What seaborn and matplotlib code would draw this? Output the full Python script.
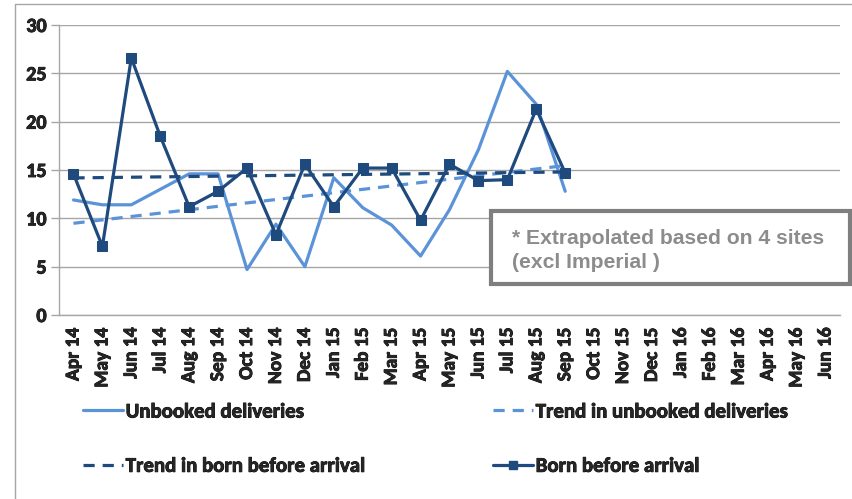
import numpy as np
import pandas as pd
import seaborn as sns
import matplotlib.pyplot as plt
import matplotlib.patheffects as pe
from matplotlib.lines import Line2D
from matplotlib.patches import Rectangle

months = ['Apr 14', 'May 14', 'Jun 14', 'Jul 14', 'Aug 14', 'Sep 14', 'Oct 14',
          'Nov 14', 'Dec 14', 'Jan 15', 'Feb 15', 'Mar 15', 'Apr 15', 'May 15',
          'Jun 15', 'Jul 15', 'Aug 15', 'Sep 15', 'Oct 15', 'Nov 15', 'Dec 15',
          'Jan 16', 'Feb 16', 'Mar 16', 'Apr 16', 'May 16', 'Jun 16']
unbooked = [11.9, 11.4, 11.4, 13.0, 14.6, 14.6, 4.7, 9.4, 5.0, 14.2, 11.1, 9.3,
            6.1, 10.9, 17.1, 25.2, 21.8, 12.8]
born = [14.6, 7.1, 26.6, 18.5, 11.2, 12.8, 15.2, 8.3, 15.6, 11.2, 15.2, 15.2,
        9.8, 15.6, 13.9, 14.0, 21.3, 14.7]

light = '#5B93D8'
dark = '#1F4A7E'
grey = '#A6A6A6'

df = pd.DataFrame({'x': np.arange(len(born)), 'unbooked': unbooked, 'born': born})
df['trend_unbooked'] = np.polyval(np.polyfit(df.x, df.unbooked, 1), df.x)
df['trend_born'] = np.polyval(np.polyfit(df.x, df.born, 1), df.x)

sns.set_style('white')
plt.rcParams['font.family'] = ['Carlito', 'DejaVu Sans']

fig = plt.figure(figsize=(8.53, 4.99), dpi=100)
ax = fig.add_axes([59 / 853, 1 - 315 / 499, 781 / 853, 290 / 499])

lw = 2.3
dash = (3.5, 2.5)
sns.lineplot(data=df, x='x', y='unbooked', ax=ax, color=light, lw=lw, zorder=3)
sns.lineplot(data=df, x='x', y='trend_unbooked', ax=ax, color=light, lw=lw,
             zorder=3).lines[-1].set_dashes(dash)
sns.lineplot(data=df, x='x', y='trend_born', ax=ax, color=dark, lw=lw,
             zorder=3).lines[-1].set_dashes(dash)
sns.lineplot(data=df, x='x', y='born', ax=ax, color=dark, lw=lw, marker='s',
             markersize=7, markeredgecolor=dark, zorder=4)

# thicken the bold text a touch
thick = [pe.withStroke(linewidth=0.6, foreground='black')]

ax.set_xlim(-0.5, len(months) - 0.5)
ax.set_ylim(0, 30)
ax.set_yticks(range(0, 31, 5))
ax.set_xticks(range(len(months)))
ax.set_xticklabels(months, rotation=90, fontweight='bold', fontsize=14, va='top')
ax.set_xticks(np.arange(-0.5, len(months)), minor=True)
ax.tick_params(axis='x', which='major', length=0, pad=9)
ax.tick_params(axis='x', which='minor', length=6, color=grey, width=1)
ax.tick_params(axis='y', length=6, color=grey, width=1, left=True, pad=3)
for t in ax.get_yticklabels():
    t.set_fontweight('bold')
    t.set_fontsize(14.5)
for t in ax.get_yticklabels() + ax.get_xticklabels():
    t.set_path_effects(thick)
ax.set_xlabel('')
ax.set_ylabel('')
ax.grid(axis='y', color=grey, lw=1)
ax.set_axisbelow(True)
for s in ['top', 'right']:
    ax.spines[s].set_visible(False)
for s in ['left', 'bottom']:
    ax.spines[s].set_color(grey)
    ax.spines[s].set_linewidth(1)

# outer chart frame
fig.add_artist(Line2D([15 / 853, 15 / 853], [0, 1 - 4 / 499], color=grey, lw=1))
fig.add_artist(Line2D([15 / 853, 1], [1 - 4 / 499, 1 - 4 / 499], color=grey, lw=1))

# note box
fig.add_artist(Rectangle((491 / 853, 1 - 284 / 499), 359 / 853, 73 / 499,
                         transform=fig.transFigure, facecolor='white',
                         edgecolor='#7F7F7F', lw=3, zorder=5))
note_kw = dict(color='#8C8C8C', fontsize=15.2, fontweight='bold',
               family=['Liberation Sans', 'DejaVu Sans'], va='center', zorder=6)
fig.text(512 / 853, 1 - 238 / 499, '* Extrapolated based on 4 sites', **note_kw)
fig.text(512 / 853, 1 - 263 / 499, '(excl Imperial )', **note_kw)

# legend in two columns
h_unb = Line2D([], [], color=light, lw=lw)
h_tunb = Line2D([], [], color=light, lw=lw, dashes=dash)
h_tborn = Line2D([], [], color=dark, lw=lw, dashes=dash)
h_born = Line2D([], [], color=dark, lw=lw, marker='s', markersize=6)
leg_kw = dict(loc='upper left', frameon=False, borderpad=0, borderaxespad=0,
              handlelength=1.9, handletextpad=0.15, labelspacing=1.76,
              prop={'weight': 'bold', 'size': 15})
legends = [
    fig.legend([h_unb, h_tborn], ['Unbooked deliveries', 'Trend in born before arrival'],
               bbox_to_anchor=(83 / 853, 1 - 403 / 499), **leg_kw),
    fig.legend([h_tunb, h_born], ['Trend in unbooked deliveries', 'Born before arrival'],
               bbox_to_anchor=(493 / 853, 1 - 403 / 499), **leg_kw),
]
for leg in legends:
    for t in leg.get_texts():
        t.set_path_effects(thick)

fig.savefig('out.png', dpi=100)
